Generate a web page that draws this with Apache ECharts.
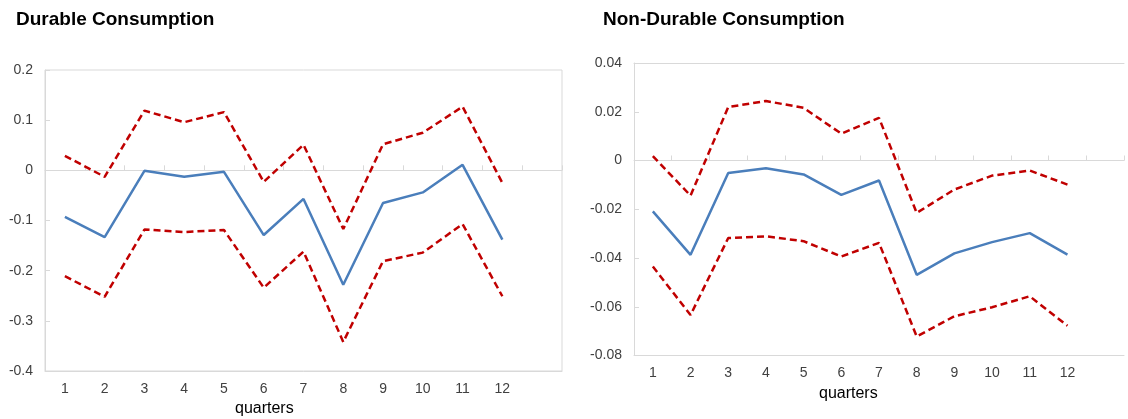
<!DOCTYPE html>
<html>
<head>
<meta charset="utf-8">
<title>Consumption responses</title>
<script src="https://cdn.jsdelivr.net/npm/echarts@6/dist/echarts.min.js"></script>
<style>
  html, body { margin: 0; padding: 0; background: #ffffff; }
  #chart { width: 1128px; height: 419px; }
</style>
</head>
<body>
<div id="chart"></div>
<script>
// Horizon (quarters after the shock)
const quarters = ['1', '2', '3', '4', '5', '6', '7', '8', '9', '10', '11', '12'];

// Durable consumption: point estimate and confidence band
const durableMean  = [-0.093, -0.133, -0.001, -0.013, -0.003, -0.129, -0.057, -0.228, -0.065, -0.044, 0.011, -0.138];
const durableUpper = [0.029, -0.013, 0.119, 0.096, 0.116, -0.023, 0.051, -0.117, 0.052, 0.075, 0.127, -0.025];
const durableLower = [-0.211, -0.252, -0.118, -0.123, -0.119, -0.234, -0.162, -0.342, -0.181, -0.164, -0.107, -0.251];

// Non-durable consumption: point estimate and confidence band
const nonDurableMean  = [-0.0209, -0.0387, -0.0051, -0.0032, -0.0057, -0.0141, -0.0082, -0.0469, -0.0381, -0.0335, -0.0298, -0.0386];
const nonDurableUpper = [0.0018, -0.0144, 0.0219, 0.0244, 0.0216, 0.0110, 0.0175, -0.0215, -0.0119, -0.0062, -0.0041, -0.0099];
const nonDurableLower = [-0.0435, -0.0634, -0.0318, -0.0311, -0.0331, -0.0394, -0.0338, -0.0722, -0.0639, -0.0602, -0.0557, -0.0678];

// Panel titles and axis caption
const panelTitles = ['Durable Consumption', 'Non-Durable Consumption'];
const xCaption = 'quarters';

const FONT = '"Liberation Sans", Arial, sans-serif';
const TEXT = '#404040';
const FRAME = '#d9d9d9';
const BLUE = '#4a7ebb';
const RED = '#c00000';

// The plot area runs a little past the last quarter, leaving one empty slot
const cats = quarters.concat(['']);

function labelAxis(gridIndex) {
  return {
    type: 'category', gridIndex: gridIndex, data: cats, position: 'bottom',
    boundaryGap: true,
    axisLine: { show: true, onZero: false, lineStyle: { color: FRAME, width: 1 } },
    axisTick: { show: false },
    axisLabel: { color: TEXT, fontFamily: FONT, fontSize: 14, margin: 11, interval: 0 },
    splitLine: { show: false }
  };
}
function zeroAxis(gridIndex) {
  return {
    type: 'category', gridIndex: gridIndex, data: cats, position: 'bottom',
    boundaryGap: true,
    axisLine: { show: true, onZero: true, lineStyle: { color: FRAME, width: 1 } },
    axisTick: { show: true, inside: true, length: 5, interval: 0, lineStyle: { color: FRAME } },
    axisLabel: { show: false },
    splitLine: { show: false }
  };
}
// Plain line along the top edge of a plot area
function topEdge(gridIndex) {
  return {
    type: 'category', gridIndex: gridIndex, data: cats, position: 'top',
    axisLine: { show: true, onZero: false, lineStyle: { color: FRAME, width: 1 } },
    axisTick: { show: false }, axisLabel: { show: false }, splitLine: { show: false }
  };
}
function valueAxis(gridIndex, min, max, step) {
  return {
    type: 'value', gridIndex: gridIndex, min: min, max: max, interval: step,
    axisLine: { show: true, lineStyle: { color: FRAME, width: 1 } },
    axisTick: { show: true, inside: true, length: 5, lineStyle: { color: FRAME } },
    axisLabel: { color: TEXT, fontFamily: FONT, fontSize: 14, margin: 12 },
    splitLine: { show: false }
  };
}
function line(name, data, xIdx, yIdx, color, dashed) {
  return {
    name: name, type: 'line', data: data,
    xAxisIndex: xIdx, yAxisIndex: yIdx,
    symbol: 'none', smooth: false, silent: true,
    lineStyle: { color: color, width: 2.5, type: dashed ? [7, 4] : 'solid' },
    z: dashed ? 3 : 2
  };
}

const chart = echarts.init(document.getElementById('chart'), null, { renderer: 'canvas' });
chart.setOption({
  backgroundColor: '#ffffff',
  animation: false,
  title: [
    { text: panelTitles[0], left: 16, top: 10, padding: 0,
      textStyle: { fontFamily: FONT, fontSize: 19, fontWeight: 'bold', color: '#000000' } },
    { text: panelTitles[1], left: 603, top: 10, padding: 0,
      textStyle: { fontFamily: FONT, fontSize: 19, fontWeight: 'bold', color: '#000000' } },
    { text: xCaption, left: 235, top: 401, padding: 0,
      textStyle: { fontFamily: FONT, fontSize: 16, fontWeight: 'normal', color: '#000000' } },
    { text: xCaption, left: 819, top: 386, padding: 0,
      textStyle: { fontFamily: FONT, fontSize: 16, fontWeight: 'normal', color: '#000000' } }
  ],
  grid: [
    // left panel: fully framed plot area
    { left: 45, top: 70, width: 517, height: 301, show: true, borderColor: FRAME, borderWidth: 1 },
    // right panel: open on the right-hand side
    { left: 634, top: 63, width: 490, height: 292.5, show: false }
  ],
  xAxis: [
    labelAxis(0), zeroAxis(0),
    labelAxis(1), zeroAxis(1), topEdge(1)
  ],
  yAxis: [
    valueAxis(0, -0.4, 0.2, 0.1),
    valueAxis(1, -0.08, 0.04, 0.02)
  ],
  series: [
    line('Durable', durableMean, 0, 0, BLUE, false),
    line('Durable upper', durableUpper, 0, 0, RED, true),
    line('Durable lower', durableLower, 0, 0, RED, true),
    line('Non-durable', nonDurableMean, 2, 1, BLUE, false),
    line('Non-durable upper', nonDurableUpper, 2, 1, RED, true),
    line('Non-durable lower', nonDurableLower, 2, 1, RED, true)
  ]
});
</script>
</body>
</html>
